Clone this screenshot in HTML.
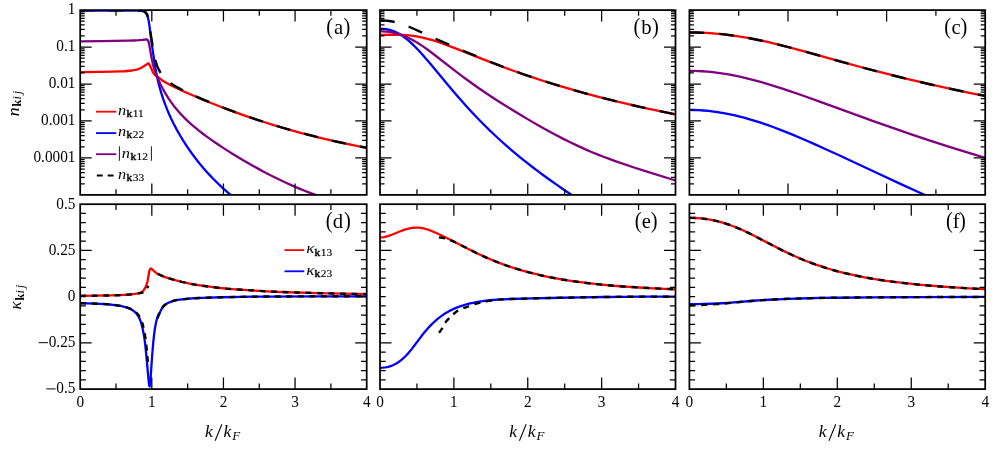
<!DOCTYPE html><html><head><meta charset="utf-8"><title>fig</title><style>html,body{margin:0;padding:0;background:#fff}svg{display:block}text{font-family:"Liberation Serif",serif;fill:#000}</style></head><body>
<svg width="997" height="453" viewBox="0 0 997 453">
<rect width="997" height="453" fill="#fff"/>
<defs>
<clipPath id="cA"><rect x="80.2" y="10.1" width="286.50" height="184.80"/></clipPath>
<clipPath id="cB"><rect x="380.0" y="10.1" width="295.50" height="184.80"/></clipPath>
<clipPath id="cC"><rect x="689.4" y="10.1" width="295.80" height="184.80"/></clipPath>
<clipPath id="cD"><rect x="80.2" y="204.2" width="286.50" height="184.90"/></clipPath>
<clipPath id="cE"><rect x="380.0" y="204.2" width="295.50" height="184.90"/></clipPath>
<clipPath id="cF"><rect x="689.4" y="204.2" width="295.80" height="184.90"/></clipPath>
</defs>
<g clip-path="url(#cA)" fill="none" stroke-linejoin="round">
<path d="M80.20 72.10 L101.88 71.87 L120.29 71.47 L122.74 71.37 L124.38 71.26 L131.74 70.51 L133.78 70.20 L135.42 69.85 L137.47 69.29 L139.51 68.60 L140.74 68.04 L141.97 67.39 L144.20 65.90 L146.50 64.50 L147.69 63.65 L148.10 63.45 L148.40 63.40 L148.51 63.42 L148.92 63.82 L149.20 64.20 L149.74 65.15 L152.60 71.58 L153.00 72.30 L153.83 73.59 L154.65 74.68 L155.40 75.40 L156.30 75.90 L157.51 76.73 L161.60 79.93 L164.35 81.69 L168.47 84.04 L172.59 86.18 L178.09 88.83 L184.96 91.97 L193.20 95.56 L202.13 99.32 L211.06 102.95 L219.99 106.47 L228.92 109.86 L237.85 113.14 L246.10 116.05 L255.03 119.09 L263.96 122.01 L272.89 124.81 L281.82 127.49 L290.75 130.07 L299.68 132.53 L309.30 135.06 L318.23 137.31 L327.84 139.62 L337.46 141.82 L347.08 143.91 L356.70 145.91 L367.00 147.93" stroke="#ff0000" stroke-width="2.3"/>
<path d="M80.20 10.55 L122.84 10.56 L135.13 10.60 L137.82 10.66 L141.66 10.91 L142.82 11.15 L143.59 11.43 L144.35 11.78 L145.12 12.34 L145.89 13.15 L146.66 14.38 L147.43 16.07 L147.81 17.23 L148.20 18.73 L148.80 21.60 L149.35 25.11 L151.27 40.05 L153.20 53.70 L154.73 63.82 L155.88 70.73 L156.65 75.00 L157.65 79.57 L158.60 83.49 L160.00 88.72 L161.55 93.94 L163.26 99.17 L165.15 104.40 L167.21 109.62 L169.15 114.20 L171.55 119.42 L173.79 123.99 L176.89 129.87 L180.24 135.75 L183.83 141.63 L187.25 146.86 L191.35 152.74 L195.23 157.96 L199.35 163.19 L203.72 168.42 L208.37 173.64 L212.67 178.22 L217.22 182.79 L222.02 187.36 L227.10 191.93 L232.49 196.51 L238.21 201.08 L243.39 205.00" stroke="#0000ff" stroke-width="2.3"/>
<path d="M80.20 41.40 L101.13 41.18 L128.50 40.68 L133.73 40.48 L138.97 40.18 L142.19 39.85 L146.21 39.30 L146.61 39.33 L147.02 39.49 L147.60 39.90 L147.82 40.15 L148.22 40.91 L148.80 42.50 L149.03 43.41 L150.64 52.69 L151.85 59.27 L153.05 64.71 L153.86 67.82 L154.30 69.30 L155.47 72.58 L159.09 81.24 L160.30 83.97 L162.64 88.52 L163.81 90.66 L165.56 93.69 L168.48 98.35 L170.23 100.94 L171.99 103.39 L173.74 105.72 L175.49 107.93 L177.24 110.05 L179.58 112.72 L181.33 114.63 L183.67 117.06 L186.01 119.38 L188.35 121.60 L193.02 125.77 L195.94 128.23 L199.45 131.06 L202.95 133.77 L206.46 136.39 L209.96 138.92 L214.05 141.78 L218.14 144.56 L222.82 147.65 L227.49 150.65 L232.75 153.95 L237.43 156.80 L242.68 159.93 L247.94 162.99 L253.20 165.97 L258.46 168.87 L263.13 171.39 L272.48 176.23 L277.16 178.56 L281.83 180.81 L286.50 183.00 L291.18 185.12 L299.94 188.90 L304.62 190.80 L308.71 192.41 L313.38 194.17 L317.47 195.64 L322.15 197.25 L326.24 198.59 L330.91 200.04 L335.00 201.25" stroke="#800080" stroke-width="2.3"/>
<path d="M80.20 10.21 L137.13 10.23 L140.24 10.35 L142.15 10.51 L143.11 10.75 L144.07 11.10 L144.54 11.34 L145.02 11.68 L145.50 12.10 L145.98 12.64 L146.46 13.34 L146.94 14.21 L147.42 15.24 L147.65 15.88 L147.89 16.64 L148.37 18.50 L148.85 20.73 L149.09 22.09 L151.00 35.80 L152.68 46.29 L153.39 50.49 L154.35 55.49 L155.31 59.74 L155.79 61.56 L156.50 63.99 L156.98 65.34 L157.70 67.13 L158.42 68.74 L159.14 70.20 L160.09 71.94 L161.29 73.90 L162.01 74.94 L162.96 76.17 L164.16 77.55 L165.59 79.02 L167.03 80.34 L168.46 81.54 L170.14 82.81 L171.81 83.99 L173.73 85.23 L175.88 86.53 L178.27 87.88 L180.66 89.16 L186.40 92.03 L190.47 93.94 L194.78 95.88 L204.58 100.11 L215.35 104.52 L226.59 108.90 L237.83 113.06 L249.31 117.11 L260.56 120.88 L271.80 124.46 L283.04 127.85 L294.28 131.05 L306.00 134.21 L317.72 137.18 L329.68 140.05 L341.88 142.79 L354.32 145.42 L367.00 147.93" stroke="#000000" stroke-width="2.4" stroke-dasharray="14.3 14.35"/>
</g>
<g clip-path="url(#cB)" fill="none" stroke-linejoin="round">
<path d="M380.00 34.87 L393.84 34.74 L397.79 34.74 L402.73 34.88 L406.68 35.12 L411.63 35.62 L416.57 36.36 L421.51 37.33 L424.47 38.02 L427.44 38.78 L432.38 40.20 L437.32 41.77 L442.26 43.46 L448.19 45.62 L458.08 49.41 L480.81 58.43 L491.68 62.67 L502.55 66.79 L513.42 70.77 L523.30 74.26 L534.17 77.95 L545.05 81.48 L555.92 84.86 L569.75 88.97 L583.59 92.86 L597.42 96.56 L612.25 100.32 L627.07 103.89 L642.89 107.51 L658.70 110.94 L675.50 114.41" stroke="#ff0000" stroke-width="2.3"/>
<path d="M380.00 28.74 L382.21 28.79 L383.68 28.90 L385.89 29.16 L387.36 29.41 L389.57 29.91 L391.04 30.32 L392.51 30.80 L393.98 31.35 L396.19 32.31 L397.66 33.04 L399.13 33.84 L400.60 34.72 L402.07 35.67 L404.28 37.22 L405.75 38.33 L407.96 40.12 L409.43 41.39 L411.64 43.39 L415.32 46.97 L419.00 50.81 L423.41 55.69 L427.09 59.93 L430.77 64.27 L446.96 83.78 L454.31 92.51 L462.41 101.81 L469.77 109.94 L477.12 117.75 L480.80 121.53 L485.22 125.97 L488.90 129.57 L493.31 133.79 L496.99 137.23 L501.40 141.26 L506.56 145.83 L511.71 150.28 L516.86 154.60 L522.01 158.81 L527.16 162.92 L533.04 167.48 L538.19 171.38 L544.08 175.73 L549.97 179.98 L555.85 184.14 L562.47 188.71 L569.10 193.19 L576.45 198.08 L583.81 202.87 L600.00 213.19" stroke="#0000ff" stroke-width="2.3"/>
<path d="M380.00 31.34 L382.96 31.41 L384.94 31.53 L386.92 31.71 L388.89 31.95 L391.86 32.44 L393.84 32.84 L395.81 33.30 L397.79 33.83 L400.75 34.76 L402.73 35.45 L404.71 36.22 L406.68 37.06 L408.66 37.96 L410.64 38.93 L412.61 39.96 L415.58 41.63 L418.54 43.44 L421.51 45.38 L424.47 47.42 L428.43 50.28 L434.36 54.79 L454.12 70.19 L461.04 75.42 L466.97 79.79 L472.90 84.05 L478.83 88.19 L484.76 92.23 L490.69 96.17 L499.58 101.92 L510.45 108.77 L520.34 114.83 L529.23 120.13 L538.13 125.28 L547.02 130.25 L555.92 135.04 L563.82 139.12 L569.75 142.07 L575.68 144.91 L581.61 147.65 L586.55 149.84 L591.49 151.95 L597.42 154.37 L603.35 156.70 L609.28 158.94 L615.21 161.09 L621.14 163.17 L633.99 167.47 L647.83 171.89 L675.50 180.48" stroke="#800080" stroke-width="2.3"/>
<path d="M380.00 20.39 L383.20 20.45 L386.16 20.64 L389.12 20.97 L392.08 21.45 L394.79 22.01 L397.74 22.76 L400.70 23.66 L403.91 24.78 L408.10 26.42 L413.03 28.52 L436.68 39.23 L445.56 43.16 L454.92 47.24 L470.70 53.95 L485.24 59.90 L492.88 62.93 L500.52 65.88 L508.16 68.74 L515.55 71.44 L522.94 74.06 L530.58 76.68 L538.22 79.23 L545.86 81.70 L553.01 83.94 L560.41 86.19 L567.80 88.38 L575.44 90.58 L590.72 94.78 L606.74 98.94 L623.01 102.93 L640.01 106.86 L657.51 110.69 L675.50 114.41" stroke="#000000" stroke-width="2.4" stroke-dasharray="14.8 14.72"/>
</g>
<g clip-path="url(#cC)" fill="none" stroke-linejoin="round">
<path d="M689.40 32.47 L697.31 32.57 L701.27 32.70 L706.22 32.93 L710.18 33.17 L715.12 33.55 L719.08 33.90 L724.03 34.42 L732.93 35.53 L741.83 36.89 L750.74 38.47 L760.63 40.46 L767.55 41.99 L774.48 43.62 L782.39 45.58 L790.31 47.62 L806.14 51.90 L842.74 62.12 L860.55 66.99 L880.33 72.22 L899.13 76.97 L909.02 79.38 L919.91 81.96 L930.79 84.46 L941.67 86.89 L952.55 89.25 L963.44 91.54 L974.32 93.76 L985.20 95.92" stroke="#ff0000" stroke-width="2.3"/>
<path d="M689.40 109.95 L693.59 110.00 L698.62 110.18 L703.65 110.50 L708.68 110.96 L713.71 111.54 L718.73 112.26 L723.76 113.10 L728.79 114.07 L733.82 115.15 L738.85 116.34 L743.88 117.65 L749.75 119.29 L754.77 120.81 L760.64 122.70 L766.51 124.69 L772.37 126.79 L782.43 130.61 L792.49 134.66 L803.39 139.26 L815.12 144.40 L825.18 148.94 L836.91 154.32 L881.33 175.05 L901.45 184.34 L921.56 193.45 L940.00 201.60" stroke="#0000ff" stroke-width="2.3"/>
<path d="M689.40 70.84 L693.36 70.87 L698.30 71.03 L702.26 71.24 L707.21 71.60 L711.16 71.97 L716.11 72.54 L720.07 73.07 L725.01 73.83 L729.96 74.69 L734.91 75.65 L739.85 76.69 L744.80 77.83 L749.75 79.04 L754.69 80.32 L759.64 81.67 L765.58 83.38 L773.49 85.78 L782.39 88.62 L791.30 91.59 L801.19 95.00 L819.00 101.34 L857.58 115.40 L875.39 121.82 L894.18 128.45 L911.99 134.58 L930.79 140.85 L948.60 146.59 L966.40 152.14 L985.20 157.80" stroke="#800080" stroke-width="2.3"/>
<path d="M689.40 32.47 L697.31 32.57 L701.27 32.70 L706.22 32.93 L710.18 33.17 L715.12 33.55 L719.08 33.90 L724.03 34.42 L732.93 35.53 L741.83 36.89 L750.74 38.47 L760.63 40.46 L767.55 41.99 L774.48 43.62 L782.39 45.58 L790.31 47.62 L806.14 51.90 L842.74 62.12 L860.55 66.99 L880.33 72.22 L899.13 76.97 L909.02 79.38 L919.91 81.96 L930.79 84.46 L941.67 86.89 L952.55 89.25 L963.44 91.54 L974.32 93.76 L985.20 95.92" stroke="#000000" stroke-width="2.4" stroke-dasharray="14.8 14.78"/>
</g>
<g clip-path="url(#cD)" fill="none" stroke-linejoin="round">
<path d="M80.20 295.90 L111.85 295.38 L118.57 295.18 L124.32 294.90 L130.08 294.50 L132.96 294.21 L134.87 293.96 L137.75 293.43 L139.67 292.94 L140.63 292.60 L141.59 292.11 L142.50 291.50 L143.51 290.45 L144.50 289.00 L145.43 287.18 L146.38 284.82 L147.34 281.89 L147.50 281.30 L148.30 277.07 L149.10 272.00 L149.26 271.31 L149.90 269.40 L150.22 268.93 L150.80 268.50 L151.18 268.61 L152.14 269.26 L153.50 270.60 L155.02 271.98 L155.98 272.77 L156.94 273.41 L158.85 274.45 L160.77 275.32 L164.61 276.84 L167.49 277.83 L172.28 279.32 L176.12 280.40 L181.87 281.87 L186.67 282.98 L190.51 283.76 L196.26 284.77 L202.02 285.66 L207.77 286.46 L214.49 287.30 L225.04 288.49 L231.75 289.08 L262.45 291.12 L271.08 291.59 L288.35 292.24 L317.12 293.09 L343.02 293.68 L367.00 294.10" stroke="#ff0000" stroke-width="2.3"/>
<path d="M80.20 303.20 L86.91 303.33 L95.00 303.60 L100.34 303.84 L105.14 304.12 L109.94 304.49 L112.81 304.79 L116.65 305.30 L120.49 305.93 L123.36 306.54 L126.24 307.33 L128.16 308.01 L130.08 308.84 L132.00 309.88 L132.96 310.51 L133.92 311.23 L135.50 312.60 L136.79 314.03 L137.75 315.38 L139.00 317.50 L139.67 318.91 L140.63 321.43 L141.80 325.20 L142.55 328.24 L143.51 333.04 L144.47 338.80 L144.90 341.90 L145.43 346.39 L146.38 356.04 L148.50 379.70 L149.10 384.80 L149.26 385.44 L149.70 386.40 L150.22 384.06 L150.30 383.50 L151.20 369.20 L152.14 355.79 L153.30 341.90 L154.06 334.86 L154.70 330.00 L155.02 327.97 L155.98 322.67 L156.60 320.00 L156.94 318.80 L157.89 316.01 L158.20 315.30 L158.85 314.04 L159.90 312.30 L161.73 308.72 L162.69 307.06 L163.20 306.40 L163.65 305.93 L164.61 305.07 L165.57 304.37 L167.49 303.21 L169.41 302.30 L172.28 301.23 L174.20 300.63 L175.16 300.38 L176.12 300.17 L178.04 299.85 L181.87 299.33 L187.63 298.77 L195.30 298.20 L202.02 297.84 L209.69 297.57 L221.20 297.27 L241.35 296.87 L253.81 296.65 L264.37 296.53 L314.24 296.36 L367.00 296.30" stroke="#0000ff" stroke-width="2.3"/>
<path d="M80.20 295.90 L107.38 295.47 L118.12 295.20 L123.83 294.93 L128.17 294.65 L133.00 294.20 L136.39 293.77 L138.68 293.40 L141.42 292.89 L142.56 292.59 L143.10 292.40 L143.47 292.21 L143.93 291.86 L144.39 291.43 L145.76 289.89 L146.44 288.92 L148.50 285.80" stroke="#000000" stroke-width="2.4" stroke-dasharray="5.9 5.6"/>
<path d="M158.00 273.90 L160.80 275.27 L163.20 276.30 L165.69 277.22 L169.18 278.38 L172.68 279.44 L176.17 280.41 L181.77 281.84 L186.66 282.97 L190.15 283.69 L194.35 284.45 L199.24 285.24 L204.13 285.96 L213.92 287.23 L221.61 288.12 L226.50 288.63 L233.49 289.20 L262.85 291.14 L268.44 291.46 L277.53 291.85 L296.40 292.49 L320.87 293.18 L344.63 293.71 L367.00 294.10" stroke="#000000" stroke-width="2.4" stroke-dasharray="5.9 5.6"/>
<path d="M80.20 303.20 L86.10 303.31 L92.90 303.52 L98.57 303.75 L103.78 304.04 L108.54 304.37 L111.49 304.64 L114.89 305.05 L118.75 305.62 L121.70 306.18 L124.87 306.92 L127.37 307.63 L129.41 308.36 L131.22 309.16 L133.03 310.16 L134.62 311.24 L136.30 312.60 L137.34 313.65 L138.48 315.07 L139.61 316.82 L140.52 318.51 L141.20 320.09 L142.10 322.62 L142.90 325.20 L143.46 327.41 L144.15 330.62 L145.05 335.51 L145.51 338.32 L146.00 341.90 L146.64 348.08 L148.00 363.50" stroke="#000000" stroke-width="2.4" stroke-dasharray="5.9 5.6"/>
<path d="M157.60 318.30 L158.30 316.08 L158.60 315.30 L159.00 314.44 L160.40 311.92 L162.50 307.73 L163.40 306.40 L163.90 305.86 L164.60 305.21 L165.30 304.65 L166.70 303.71 L167.40 303.29 L168.81 302.57 L170.91 301.71 L173.71 300.77 L175.11 300.39 L177.21 299.98 L180.01 299.56 L183.51 299.15 L188.41 298.70 L194.72 298.24 L199.62 297.95 L205.22 297.72 L221.33 297.27 L252.15 296.68 L266.15 296.52 L287.86 296.43 L327.78 296.33 L367.00 296.30" stroke="#000000" stroke-width="2.4" stroke-dasharray="5.9 5.6"/>
</g>
<g clip-path="url(#cE)" fill="none" stroke-linejoin="round">
<path d="M380.00 237.37 L381.98 237.29 L383.95 237.04 L385.93 236.63 L387.91 236.09 L389.88 235.44 L391.86 234.72 L399.77 231.51 L402.73 230.37 L404.71 229.69 L406.68 229.07 L409.65 228.33 L411.63 227.98 L412.61 227.85 L413.60 227.75 L415.58 227.65 L416.57 227.64 L418.54 227.72 L420.52 227.92 L422.50 228.23 L425.46 228.91 L427.44 229.50 L429.41 230.17 L433.37 231.73 L437.32 233.48 L442.26 235.80 L448.19 238.71 L468.95 249.28 L476.85 253.20 L481.79 255.55 L485.75 257.34 L489.70 259.06 L493.65 260.71 L498.60 262.66 L503.54 264.50 L508.48 266.24 L513.42 267.87 L518.36 269.41 L524.29 271.13 L529.23 272.47 L535.16 273.96 L542.08 275.57 L549.00 277.03 L555.92 278.36 L562.83 279.57 L570.74 280.83 L578.65 281.96 L586.55 282.98 L594.46 283.90 L602.37 284.71 L611.26 285.53 L620.16 286.24 L629.05 286.87 L638.93 287.49 L648.82 288.04 L675.50 289.30" stroke="#ff0000" stroke-width="2.3"/>
<path d="M380.00 367.81 L382.96 367.68 L384.94 367.45 L386.92 367.09 L387.91 366.86 L389.88 366.30 L391.86 365.60 L392.85 365.19 L394.82 364.26 L396.80 363.16 L397.79 362.55 L399.77 361.20 L401.74 359.66 L403.72 357.94 L405.70 356.02 L407.67 353.89 L409.65 351.59 L411.63 349.15 L414.59 345.31 L421.51 336.08 L424.47 332.31 L426.45 329.95 L428.43 327.72 L431.39 324.61 L434.36 321.77 L437.32 319.18 L440.29 316.84 L442.26 315.41 L444.24 314.07 L446.22 312.83 L448.19 311.67 L450.17 310.60 L452.15 309.60 L454.12 308.68 L456.10 307.84 L460.05 306.33 L464.01 305.05 L465.98 304.49 L468.95 303.72 L472.90 302.83 L477.84 301.89 L482.78 301.11 L487.72 300.49 L492.67 300.00 L497.61 299.62 L503.54 299.28 L510.45 299.00 L532.20 298.43 L560.86 297.76 L582.60 297.33 L603.35 297.00 L622.13 296.79 L640.91 296.66 L658.70 296.64 L675.50 296.72" stroke="#0000ff" stroke-width="2.3"/>
<path d="M439.00 237.26 L439.59 237.45 L440.19 237.56 L443.74 238.00 L445.52 238.35 L446.71 238.67 L447.89 239.05 L450.26 239.97 L452.63 241.04 L455.00 242.19 L472.19 250.91 L476.93 253.24 L481.68 255.49 L486.42 257.64 L491.16 259.68 L495.90 261.61 L501.24 263.66 L505.98 265.37 L511.31 267.19 L516.06 268.70 L521.39 270.30 L526.72 271.80 L532.06 273.20 L537.39 274.50 L542.73 275.71 L549.25 277.08 L555.77 278.33 L562.29 279.48 L569.40 280.63 L576.51 281.67 L583.63 282.62 L591.33 283.55 L599.04 284.38 L606.74 285.13 L614.45 285.79 L622.75 286.43 L631.64 287.04 L640.53 287.58 L650.61 288.13 L675.50 289.30" stroke="#000000" stroke-width="2.4" stroke-dasharray="6.15 5.65"/>
<path d="M439.00 332.80 L440.19 331.32 L441.96 328.68 L443.15 326.69 L444.33 324.16 L444.93 323.06 L446.11 321.48 L447.30 320.16 L450.85 316.46 L452.63 314.72 L455.00 312.74 L456.19 311.83 L457.37 311.02 L458.56 310.32 L459.75 309.72 L462.71 308.44 L465.08 307.53 L470.41 305.71 L473.38 304.52 L474.56 304.11 L477.53 303.32 L484.05 301.84 L487.60 301.10 L490.57 300.59 L494.72 299.99 L498.27 299.59 L501.83 299.36 L507.16 299.12 L514.28 298.88 L526.13 298.58 L564.66 297.68 L595.48 297.12 L623.93 296.77 L650.61 296.64 L675.50 296.72" stroke="#000000" stroke-width="2.4" stroke-dasharray="6.15 5.65"/>
</g>
<g clip-path="url(#cF)" fill="none" stroke-linejoin="round">
<path d="M689.40 217.84 L692.37 217.87 L695.34 217.98 L700.28 218.33 L705.23 218.89 L710.18 219.67 L715.12 220.66 L720.07 221.88 L725.01 223.33 L729.96 225.00 L733.92 226.48 L737.88 228.09 L741.83 229.81 L746.78 232.11 L750.74 234.04 L755.68 236.54 L773.49 245.84 L782.39 250.36 L787.34 252.77 L792.29 255.08 L797.23 257.29 L801.19 258.98 L806.14 260.99 L811.08 262.89 L816.03 264.69 L821.97 266.70 L826.91 268.26 L832.85 270.00 L838.78 271.62 L844.72 273.11 L850.66 274.49 L857.58 275.96 L864.51 277.31 L871.43 278.54 L878.36 279.67 L886.27 280.84 L894.18 281.91 L903.09 282.98 L911.99 283.95 L920.90 284.83 L930.79 285.70 L940.68 286.49 L950.57 287.19 L961.46 287.89 L973.33 288.56 L985.20 289.17" stroke="#ff0000" stroke-width="2.3"/>
<path d="M689.40 304.09 L697.31 304.05 L704.24 303.95 L711.16 303.76 L717.10 303.51 L722.05 303.24 L727.98 302.84 L753.70 300.77 L761.62 300.20 L768.54 299.77 L777.45 299.30 L787.34 298.88 L797.23 298.54 L808.12 298.24 L820.98 297.97 L835.82 297.73 L872.42 297.35 L919.91 297.10 L985.20 296.92" stroke="#0000ff" stroke-width="2.3"/>
<path d="M689.40 217.84 L692.37 217.87 L695.34 217.98 L700.28 218.33 L705.23 218.89 L710.18 219.67 L715.12 220.66 L720.07 221.88 L725.01 223.33 L729.96 225.00 L733.92 226.48 L737.88 228.09 L741.83 229.81 L746.78 232.11 L750.74 234.04 L755.68 236.54 L773.49 245.84 L782.39 250.36 L787.34 252.77 L792.29 255.08 L797.23 257.29 L801.19 258.98 L806.14 260.99 L811.08 262.89 L816.03 264.69 L821.97 266.70 L826.91 268.26 L832.85 270.00 L838.78 271.62 L844.72 273.11 L850.66 274.49 L857.58 275.96 L864.51 277.31 L871.43 278.54 L878.36 279.67 L886.27 280.84 L894.18 281.91 L903.09 282.98 L911.99 283.95 L920.90 284.83 L930.79 285.70 L940.68 286.49 L950.57 287.19 L961.46 287.89 L973.33 288.56 L985.20 289.17" stroke="#000000" stroke-width="2.4" stroke-dasharray="6.15 5.65"/>
<path d="M689.40 305.19 L694.35 305.15 L700.28 305.01 L705.23 304.82 L711.16 304.50 L716.11 304.17 L722.05 303.70 L747.77 301.31 L755.68 300.65 L762.61 300.15 L771.51 299.61 L780.42 299.16 L790.31 298.77 L801.19 298.42 L815.04 298.08 L829.88 297.82 L846.70 297.59 L866.48 297.40 L915.95 297.11 L985.20 296.92" stroke="#000000" stroke-width="2.4" stroke-dasharray="6.15 5.65"/>
</g>
<path d="M80.2 35.93h4.5M366.7 35.93h-4.5 M80.2 29.43h4.5M366.7 29.43h-4.5 M80.2 24.81h4.5M366.7 24.81h-4.5 M80.2 21.23h4.5M366.7 21.23h-4.5 M80.2 18.30h4.5M366.7 18.30h-4.5 M80.2 15.83h4.5M366.7 15.83h-4.5 M80.2 13.68h4.5M366.7 13.68h-4.5 M80.2 11.79h4.5M366.7 11.79h-4.5 M80.2 47.06h11.5M366.7 47.06h-11.5 M80.2 72.89h4.5M366.7 72.89h-4.5 M80.2 66.39h4.5M366.7 66.39h-4.5 M80.2 61.77h4.5M366.7 61.77h-4.5 M80.2 58.19h4.5M366.7 58.19h-4.5 M80.2 55.26h4.5M366.7 55.26h-4.5 M80.2 52.79h4.5M366.7 52.79h-4.5 M80.2 50.64h4.5M366.7 50.64h-4.5 M80.2 48.75h4.5M366.7 48.75h-4.5 M80.2 84.02h11.5M366.7 84.02h-11.5 M80.2 109.85h4.5M366.7 109.85h-4.5 M80.2 103.35h4.5M366.7 103.35h-4.5 M80.2 98.73h4.5M366.7 98.73h-4.5 M80.2 95.15h4.5M366.7 95.15h-4.5 M80.2 92.22h4.5M366.7 92.22h-4.5 M80.2 89.75h4.5M366.7 89.75h-4.5 M80.2 87.60h4.5M366.7 87.60h-4.5 M80.2 85.71h4.5M366.7 85.71h-4.5 M80.2 120.98h11.5M366.7 120.98h-11.5 M80.2 146.81h4.5M366.7 146.81h-4.5 M80.2 140.31h4.5M366.7 140.31h-4.5 M80.2 135.69h4.5M366.7 135.69h-4.5 M80.2 132.11h4.5M366.7 132.11h-4.5 M80.2 129.18h4.5M366.7 129.18h-4.5 M80.2 126.71h4.5M366.7 126.71h-4.5 M80.2 124.56h4.5M366.7 124.56h-4.5 M80.2 122.67h4.5M366.7 122.67h-4.5 M80.2 157.94h11.5M366.7 157.94h-11.5 M80.2 183.77h4.5M366.7 183.77h-4.5 M80.2 177.27h4.5M366.7 177.27h-4.5 M80.2 172.65h4.5M366.7 172.65h-4.5 M80.2 169.07h4.5M366.7 169.07h-4.5 M80.2 166.14h4.5M366.7 166.14h-4.5 M80.2 163.67h4.5M366.7 163.67h-4.5 M80.2 161.52h4.5M366.7 161.52h-4.5 M80.2 159.63h4.5M366.7 159.63h-4.5 M116.01 10.1v5.7M116.01 194.9v-5.7 M151.82 10.1v11.5M151.82 194.9v-11.5 M187.64 10.1v5.7M187.64 194.9v-5.7 M223.45 10.1v11.5M223.45 194.9v-11.5 M259.26 10.1v5.7M259.26 194.9v-5.7 M295.07 10.1v11.5M295.07 194.9v-11.5 M330.89 10.1v5.7M330.89 194.9v-5.7 M380.0 35.93h4.5M675.5 35.93h-4.5 M380.0 29.43h4.5M675.5 29.43h-4.5 M380.0 24.81h4.5M675.5 24.81h-4.5 M380.0 21.23h4.5M675.5 21.23h-4.5 M380.0 18.30h4.5M675.5 18.30h-4.5 M380.0 15.83h4.5M675.5 15.83h-4.5 M380.0 13.68h4.5M675.5 13.68h-4.5 M380.0 11.79h4.5M675.5 11.79h-4.5 M380.0 47.06h11.5M675.5 47.06h-11.5 M380.0 72.89h4.5M675.5 72.89h-4.5 M380.0 66.39h4.5M675.5 66.39h-4.5 M380.0 61.77h4.5M675.5 61.77h-4.5 M380.0 58.19h4.5M675.5 58.19h-4.5 M380.0 55.26h4.5M675.5 55.26h-4.5 M380.0 52.79h4.5M675.5 52.79h-4.5 M380.0 50.64h4.5M675.5 50.64h-4.5 M380.0 48.75h4.5M675.5 48.75h-4.5 M380.0 84.02h11.5M675.5 84.02h-11.5 M380.0 109.85h4.5M675.5 109.85h-4.5 M380.0 103.35h4.5M675.5 103.35h-4.5 M380.0 98.73h4.5M675.5 98.73h-4.5 M380.0 95.15h4.5M675.5 95.15h-4.5 M380.0 92.22h4.5M675.5 92.22h-4.5 M380.0 89.75h4.5M675.5 89.75h-4.5 M380.0 87.60h4.5M675.5 87.60h-4.5 M380.0 85.71h4.5M675.5 85.71h-4.5 M380.0 120.98h11.5M675.5 120.98h-11.5 M380.0 146.81h4.5M675.5 146.81h-4.5 M380.0 140.31h4.5M675.5 140.31h-4.5 M380.0 135.69h4.5M675.5 135.69h-4.5 M380.0 132.11h4.5M675.5 132.11h-4.5 M380.0 129.18h4.5M675.5 129.18h-4.5 M380.0 126.71h4.5M675.5 126.71h-4.5 M380.0 124.56h4.5M675.5 124.56h-4.5 M380.0 122.67h4.5M675.5 122.67h-4.5 M380.0 157.94h11.5M675.5 157.94h-11.5 M380.0 183.77h4.5M675.5 183.77h-4.5 M380.0 177.27h4.5M675.5 177.27h-4.5 M380.0 172.65h4.5M675.5 172.65h-4.5 M380.0 169.07h4.5M675.5 169.07h-4.5 M380.0 166.14h4.5M675.5 166.14h-4.5 M380.0 163.67h4.5M675.5 163.67h-4.5 M380.0 161.52h4.5M675.5 161.52h-4.5 M380.0 159.63h4.5M675.5 159.63h-4.5 M416.94 10.1v5.7M416.94 194.9v-5.7 M453.88 10.1v11.5M453.88 194.9v-11.5 M490.81 10.1v5.7M490.81 194.9v-5.7 M527.75 10.1v11.5M527.75 194.9v-11.5 M564.69 10.1v5.7M564.69 194.9v-5.7 M601.62 10.1v11.5M601.62 194.9v-11.5 M638.56 10.1v5.7M638.56 194.9v-5.7 M689.4 35.93h4.5M985.2 35.93h-4.5 M689.4 29.43h4.5M985.2 29.43h-4.5 M689.4 24.81h4.5M985.2 24.81h-4.5 M689.4 21.23h4.5M985.2 21.23h-4.5 M689.4 18.30h4.5M985.2 18.30h-4.5 M689.4 15.83h4.5M985.2 15.83h-4.5 M689.4 13.68h4.5M985.2 13.68h-4.5 M689.4 11.79h4.5M985.2 11.79h-4.5 M689.4 47.06h11.5M985.2 47.06h-11.5 M689.4 72.89h4.5M985.2 72.89h-4.5 M689.4 66.39h4.5M985.2 66.39h-4.5 M689.4 61.77h4.5M985.2 61.77h-4.5 M689.4 58.19h4.5M985.2 58.19h-4.5 M689.4 55.26h4.5M985.2 55.26h-4.5 M689.4 52.79h4.5M985.2 52.79h-4.5 M689.4 50.64h4.5M985.2 50.64h-4.5 M689.4 48.75h4.5M985.2 48.75h-4.5 M689.4 84.02h11.5M985.2 84.02h-11.5 M689.4 109.85h4.5M985.2 109.85h-4.5 M689.4 103.35h4.5M985.2 103.35h-4.5 M689.4 98.73h4.5M985.2 98.73h-4.5 M689.4 95.15h4.5M985.2 95.15h-4.5 M689.4 92.22h4.5M985.2 92.22h-4.5 M689.4 89.75h4.5M985.2 89.75h-4.5 M689.4 87.60h4.5M985.2 87.60h-4.5 M689.4 85.71h4.5M985.2 85.71h-4.5 M689.4 120.98h11.5M985.2 120.98h-11.5 M689.4 146.81h4.5M985.2 146.81h-4.5 M689.4 140.31h4.5M985.2 140.31h-4.5 M689.4 135.69h4.5M985.2 135.69h-4.5 M689.4 132.11h4.5M985.2 132.11h-4.5 M689.4 129.18h4.5M985.2 129.18h-4.5 M689.4 126.71h4.5M985.2 126.71h-4.5 M689.4 124.56h4.5M985.2 124.56h-4.5 M689.4 122.67h4.5M985.2 122.67h-4.5 M689.4 157.94h11.5M985.2 157.94h-11.5 M689.4 183.77h4.5M985.2 183.77h-4.5 M689.4 177.27h4.5M985.2 177.27h-4.5 M689.4 172.65h4.5M985.2 172.65h-4.5 M689.4 169.07h4.5M985.2 169.07h-4.5 M689.4 166.14h4.5M985.2 166.14h-4.5 M689.4 163.67h4.5M985.2 163.67h-4.5 M689.4 161.52h4.5M985.2 161.52h-4.5 M689.4 159.63h4.5M985.2 159.63h-4.5 M738.70 10.1v5.7M738.70 194.9v-5.7 M788.00 10.1v11.5M788.00 194.9v-11.5 M837.30 10.1v5.7M837.30 194.9v-5.7 M886.60 10.1v11.5M886.60 194.9v-11.5 M935.90 10.1v5.7M935.90 194.9v-5.7 M80.2 213.44h5.7M366.7 213.44h-5.7 M80.2 222.69h5.7M366.7 222.69h-5.7 M80.2 231.94h5.7M366.7 231.94h-5.7 M80.2 241.18h5.7M366.7 241.18h-5.7 M80.2 250.43h11.5M366.7 250.43h-11.5 M80.2 259.67h5.7M366.7 259.67h-5.7 M80.2 268.91h5.7M366.7 268.91h-5.7 M80.2 278.16h5.7M366.7 278.16h-5.7 M80.2 287.40h5.7M366.7 287.40h-5.7 M80.2 296.65h5.7M366.7 296.65h-5.7 M80.2 305.89h5.7M366.7 305.89h-5.7 M80.2 315.14h5.7M366.7 315.14h-5.7 M80.2 324.38h5.7M366.7 324.38h-5.7 M80.2 333.63h5.7M366.7 333.63h-5.7 M80.2 342.88h11.5M366.7 342.88h-11.5 M80.2 352.12h5.7M366.7 352.12h-5.7 M80.2 361.37h5.7M366.7 361.37h-5.7 M80.2 370.61h5.7M366.7 370.61h-5.7 M80.2 379.86h5.7M366.7 379.86h-5.7 M116.01 204.2v5.7M116.01 389.1v-5.7 M151.82 204.2v11.5M151.82 389.1v-11.5 M187.64 204.2v5.7M187.64 389.1v-5.7 M223.45 204.2v11.5M223.45 389.1v-11.5 M259.26 204.2v5.7M259.26 389.1v-5.7 M295.07 204.2v11.5M295.07 389.1v-11.5 M330.89 204.2v5.7M330.89 389.1v-5.7 M380.0 213.44h5.7M675.5 213.44h-5.7 M380.0 222.69h5.7M675.5 222.69h-5.7 M380.0 231.94h5.7M675.5 231.94h-5.7 M380.0 241.18h5.7M675.5 241.18h-5.7 M380.0 250.43h11.5M675.5 250.43h-11.5 M380.0 259.67h5.7M675.5 259.67h-5.7 M380.0 268.91h5.7M675.5 268.91h-5.7 M380.0 278.16h5.7M675.5 278.16h-5.7 M380.0 287.40h5.7M675.5 287.40h-5.7 M380.0 296.65h5.7M675.5 296.65h-5.7 M380.0 305.89h5.7M675.5 305.89h-5.7 M380.0 315.14h5.7M675.5 315.14h-5.7 M380.0 324.38h5.7M675.5 324.38h-5.7 M380.0 333.63h5.7M675.5 333.63h-5.7 M380.0 342.88h11.5M675.5 342.88h-11.5 M380.0 352.12h5.7M675.5 352.12h-5.7 M380.0 361.37h5.7M675.5 361.37h-5.7 M380.0 370.61h5.7M675.5 370.61h-5.7 M380.0 379.86h5.7M675.5 379.86h-5.7 M416.94 204.2v5.7M416.94 389.1v-5.7 M453.88 204.2v11.5M453.88 389.1v-11.5 M490.81 204.2v5.7M490.81 389.1v-5.7 M527.75 204.2v11.5M527.75 389.1v-11.5 M564.69 204.2v5.7M564.69 389.1v-5.7 M601.62 204.2v11.5M601.62 389.1v-11.5 M638.56 204.2v5.7M638.56 389.1v-5.7 M689.4 213.44h5.7M985.2 213.44h-5.7 M689.4 222.69h5.7M985.2 222.69h-5.7 M689.4 231.94h5.7M985.2 231.94h-5.7 M689.4 241.18h5.7M985.2 241.18h-5.7 M689.4 250.43h11.5M985.2 250.43h-11.5 M689.4 259.67h5.7M985.2 259.67h-5.7 M689.4 268.91h5.7M985.2 268.91h-5.7 M689.4 278.16h5.7M985.2 278.16h-5.7 M689.4 287.40h5.7M985.2 287.40h-5.7 M689.4 296.65h5.7M985.2 296.65h-5.7 M689.4 305.89h5.7M985.2 305.89h-5.7 M689.4 315.14h5.7M985.2 315.14h-5.7 M689.4 324.38h5.7M985.2 324.38h-5.7 M689.4 333.63h5.7M985.2 333.63h-5.7 M689.4 342.88h11.5M985.2 342.88h-11.5 M689.4 352.12h5.7M985.2 352.12h-5.7 M689.4 361.37h5.7M985.2 361.37h-5.7 M689.4 370.61h5.7M985.2 370.61h-5.7 M689.4 379.86h5.7M985.2 379.86h-5.7 M726.38 204.2v5.7M726.38 389.1v-5.7 M763.35 204.2v11.5M763.35 389.1v-11.5 M800.33 204.2v5.7M800.33 389.1v-5.7 M837.30 204.2v11.5M837.30 389.1v-11.5 M874.28 204.2v5.7M874.28 389.1v-5.7 M911.25 204.2v11.5M911.25 389.1v-11.5 M948.23 204.2v5.7M948.23 389.1v-5.7" stroke="#000" stroke-width="1.25" fill="none"/>
<rect x="80.2" y="10.1" width="286.50" height="184.80" fill="none" stroke="#000" stroke-width="1.75"/>
<rect x="380.0" y="10.1" width="295.50" height="184.80" fill="none" stroke="#000" stroke-width="1.75"/>
<rect x="689.4" y="10.1" width="295.80" height="184.80" fill="none" stroke="#000" stroke-width="1.75"/>
<rect x="80.2" y="204.2" width="286.50" height="184.90" fill="none" stroke="#000" stroke-width="1.75"/>
<rect x="380.0" y="204.2" width="295.50" height="184.90" fill="none" stroke="#000" stroke-width="1.75"/>
<rect x="689.4" y="204.2" width="295.80" height="184.90" fill="none" stroke="#000" stroke-width="1.75"/>
<g opacity="0.999">
<text transform="translate(75.40,14.20) scale(0.955,1)" font-size="16.0" text-anchor="end">1</text>
<text transform="translate(75.40,51.16) scale(0.955,1)" font-size="16.0" text-anchor="end">0.1</text>
<text transform="translate(75.40,88.12) scale(0.955,1)" font-size="16.0" text-anchor="end">0.01</text>
<text transform="translate(75.40,125.08) scale(0.955,1)" font-size="16.0" text-anchor="end">0.001</text>
<text transform="translate(75.40,162.04) scale(0.955,1)" font-size="16.0" text-anchor="end">0.0001</text>
<text transform="translate(75.40,208.50) scale(0.955,1)" font-size="16.0" text-anchor="end">0.5</text>
<text transform="translate(75.40,254.73) scale(0.955,1)" font-size="16.0" text-anchor="end">0.25</text>
<text transform="translate(75.40,300.95) scale(0.955,1)" font-size="16.0" text-anchor="end">0</text>
<text transform="translate(75.40,347.18) scale(0.955,1)" font-size="16.0" text-anchor="end">0.25</text><path d="M38.66 342.68H47.96" stroke="#000" stroke-width="1.0" fill="none"/>
<text transform="translate(75.40,393.40) scale(0.955,1)" font-size="16.0" text-anchor="end">0.5</text><path d="M46.30 388.90H55.60" stroke="#000" stroke-width="1.0" fill="none"/>
<text transform="translate(80.20,406.80) scale(0.955,1)" font-size="16.0" text-anchor="middle">0</text>
<text transform="translate(151.82,406.80) scale(0.955,1)" font-size="16.0" text-anchor="middle">1</text>
<text transform="translate(223.45,406.80) scale(0.955,1)" font-size="16.0" text-anchor="middle">2</text>
<text transform="translate(295.07,406.80) scale(0.955,1)" font-size="16.0" text-anchor="middle">3</text>
<text transform="translate(366.70,406.80) scale(0.955,1)" font-size="16.0" text-anchor="middle">4</text>
<text transform="translate(380.00,406.80) scale(0.955,1)" font-size="16.0" text-anchor="middle">0</text>
<text transform="translate(453.88,406.80) scale(0.955,1)" font-size="16.0" text-anchor="middle">1</text>
<text transform="translate(527.75,406.80) scale(0.955,1)" font-size="16.0" text-anchor="middle">2</text>
<text transform="translate(601.62,406.80) scale(0.955,1)" font-size="16.0" text-anchor="middle">3</text>
<text transform="translate(675.50,406.80) scale(0.955,1)" font-size="16.0" text-anchor="middle">4</text>
<text transform="translate(689.40,406.80) scale(0.955,1)" font-size="16.0" text-anchor="middle">0</text>
<text transform="translate(763.35,406.80) scale(0.955,1)" font-size="16.0" text-anchor="middle">1</text>
<text transform="translate(837.30,406.80) scale(0.955,1)" font-size="16.0" text-anchor="middle">2</text>
<text transform="translate(911.25,406.80) scale(0.955,1)" font-size="16.0" text-anchor="middle">3</text>
<text transform="translate(985.20,406.80) scale(0.955,1)" font-size="16.0" text-anchor="middle">4</text>
<text transform="translate(329.65,33.80) scale(0.85,1)" font-size="24" text-anchor="middle">(</text>
<text transform="translate(338.65,33.80) scale(1.0,1)" font-size="20.7" text-anchor="middle">a</text>
<text transform="translate(346.85,33.80) scale(0.85,1)" font-size="24" text-anchor="middle">)</text>
<text transform="translate(636.86,33.80) scale(0.85,1)" font-size="24" text-anchor="middle">(</text>
<text transform="translate(646.31,33.80) scale(1.0,1)" font-size="20.7" text-anchor="middle">b</text>
<text transform="translate(655.46,33.80) scale(0.85,1)" font-size="24" text-anchor="middle">)</text>
<text transform="translate(947.73,33.80) scale(0.85,1)" font-size="24" text-anchor="middle">(</text>
<text transform="translate(956.13,33.80) scale(1.0,1)" font-size="20.7" text-anchor="middle">c</text>
<text transform="translate(963.93,33.80) scale(0.85,1)" font-size="24" text-anchor="middle">)</text>
<text transform="translate(329.05,227.90) scale(0.85,1)" font-size="24" text-anchor="middle">(</text>
<text transform="translate(338.00,227.90) scale(1.0,1)" font-size="20.7" text-anchor="middle">d</text>
<text transform="translate(347.45,227.90) scale(0.85,1)" font-size="24" text-anchor="middle">)</text>
<text transform="translate(638.16,227.90) scale(0.85,1)" font-size="24" text-anchor="middle">(</text>
<text transform="translate(646.36,227.90) scale(1.0,1)" font-size="20.7" text-anchor="middle">e</text>
<text transform="translate(654.16,227.90) scale(0.85,1)" font-size="24" text-anchor="middle">)</text>
<text transform="translate(949.28,227.90) scale(0.85,1)" font-size="24" text-anchor="middle">(</text>
<text transform="translate(956.23,227.90) scale(1.0,1)" font-size="20.7" text-anchor="middle">f</text>
<text transform="translate(962.38,227.90) scale(0.85,1)" font-size="24" text-anchor="middle">)</text>
<text transform="translate(204.95,436.60) scale(1.0,1)" font-size="17.6" text-anchor="start" font-style="italic">k</text><path d="M215.15 440.8L221.85 424.2" stroke="#000" stroke-width="1.05" fill="none"/><text transform="translate(223.45,436.60) scale(1.0,1)" font-size="17.6" text-anchor="start" font-style="italic">k</text><text transform="translate(232.25,439.80) scale(1.05,1)" font-size="12.4" text-anchor="start" font-style="italic">F</text>
<text transform="translate(509.25,436.60) scale(1.0,1)" font-size="17.6" text-anchor="start" font-style="italic">k</text><path d="M519.45 440.8L526.15 424.2" stroke="#000" stroke-width="1.05" fill="none"/><text transform="translate(527.75,436.60) scale(1.0,1)" font-size="17.6" text-anchor="start" font-style="italic">k</text><text transform="translate(536.55,439.80) scale(1.05,1)" font-size="12.4" text-anchor="start" font-style="italic">F</text>
<text transform="translate(818.80,436.60) scale(1.0,1)" font-size="17.6" text-anchor="start" font-style="italic">k</text><path d="M829.00 440.8L835.70 424.2" stroke="#000" stroke-width="1.05" fill="none"/><text transform="translate(837.30,436.60) scale(1.0,1)" font-size="17.6" text-anchor="start" font-style="italic">k</text><text transform="translate(846.10,439.80) scale(1.05,1)" font-size="12.4" text-anchor="start" font-style="italic">F</text>
<g transform="translate(18.7,116.4) rotate(-90)"><text transform="translate(0.00,0.00) scale(1.05,1)" font-size="17.6" text-anchor="start" font-style="italic">n</text><text transform="translate(9.80,2.60) scale(1.0,1)" font-size="12.2" text-anchor="start" font-weight="bold">k</text><text transform="translate(16.90,2.60) scale(1.0,1)" font-size="12.2" text-anchor="start" font-style="italic">i</text><text transform="translate(22.20,2.60) scale(1.0,1)" font-size="12.2" text-anchor="start" font-style="italic">j</text></g>
<g transform="translate(21.2,309.5) rotate(-90)"><text transform="translate(0.00,0.00) scale(1.05,1)" font-size="16.2" text-anchor="start" font-style="italic">κ</text><text transform="translate(8.90,2.60) scale(1.0,1)" font-size="12.2" text-anchor="start" font-weight="bold">k</text><text transform="translate(16.00,2.60) scale(1.0,1)" font-size="12.2" text-anchor="start" font-style="italic">i</text><text transform="translate(21.30,2.60) scale(1.0,1)" font-size="12.2" text-anchor="start" font-style="italic">j</text></g>
<path d="M96 111.7H116.3" stroke="#ff0000" stroke-width="1.8" fill="none"/>
<text transform="translate(118.00,114.60) scale(1.05,1)" font-size="15.6" text-anchor="start" font-style="italic">n</text><text transform="translate(126.60,116.90) scale(1.08,1)" font-size="10.6" text-anchor="start" stroke="#000" stroke-width="0.45">k</text><text transform="translate(132.80,116.90) scale(1.04,1)" font-size="11.0" text-anchor="start" stroke="#000" stroke-width="0.15">11</text>
<path d="M96 133.1H116.3" stroke="#0000ff" stroke-width="1.8" fill="none"/>
<text transform="translate(118.00,136.00) scale(1.05,1)" font-size="15.6" text-anchor="start" font-style="italic">n</text><text transform="translate(126.60,138.30) scale(1.08,1)" font-size="10.6" text-anchor="start" stroke="#000" stroke-width="0.45">k</text><text transform="translate(132.80,138.30) scale(1.04,1)" font-size="11.0" text-anchor="start" stroke="#000" stroke-width="0.15">22</text>
<path d="M96 154.2H116.3" stroke="#800080" stroke-width="1.8" fill="none"/>
<path d="M119.4 146.3V160.8" stroke="#000" stroke-width="0.9" fill="none"/>
<text transform="translate(121.80,157.50) scale(1.05,1)" font-size="15.6" text-anchor="start" font-style="italic">n</text><text transform="translate(130.40,159.80) scale(1.08,1)" font-size="10.6" text-anchor="start" stroke="#000" stroke-width="0.45">k</text><text transform="translate(136.60,159.80) scale(1.04,1)" font-size="11.0" text-anchor="start" stroke="#000" stroke-width="0.15">12</text>
<path d="M151.4 146.3V160.8" stroke="#000" stroke-width="0.9" fill="none"/>
<path d="M96.8 175.5H116.3" stroke="#000000" stroke-width="1.8" stroke-dasharray="5.9 5" fill="none"/>
<text transform="translate(118.00,178.60) scale(1.05,1)" font-size="15.6" text-anchor="start" font-style="italic">n</text><text transform="translate(126.60,180.90) scale(1.08,1)" font-size="10.6" text-anchor="start" stroke="#000" stroke-width="0.45">k</text><text transform="translate(132.80,180.90) scale(1.04,1)" font-size="11.0" text-anchor="start" stroke="#000" stroke-width="0.15">33</text>
<path d="M284.5 250.1H304.3" stroke="#ff0000" stroke-width="1.8" fill="none"/>
<text transform="translate(306.20,253.20) scale(1.2,1)" font-size="14.4" text-anchor="start" font-style="italic">κ</text><text transform="translate(314.50,255.50) scale(1.08,1)" font-size="10.6" text-anchor="start" stroke="#000" stroke-width="0.45">k</text><text transform="translate(320.70,255.50) scale(1.04,1)" font-size="11.0" text-anchor="start" stroke="#000" stroke-width="0.15">13</text>
<path d="M284.5 271.3H304.3" stroke="#0000ff" stroke-width="1.8" fill="none"/>
<text transform="translate(306.20,274.50) scale(1.2,1)" font-size="14.4" text-anchor="start" font-style="italic">κ</text><text transform="translate(314.50,276.80) scale(1.08,1)" font-size="10.6" text-anchor="start" stroke="#000" stroke-width="0.45">k</text><text transform="translate(320.70,276.80) scale(1.04,1)" font-size="11.0" text-anchor="start" stroke="#000" stroke-width="0.15">23</text>
</g>
</svg></body></html>
